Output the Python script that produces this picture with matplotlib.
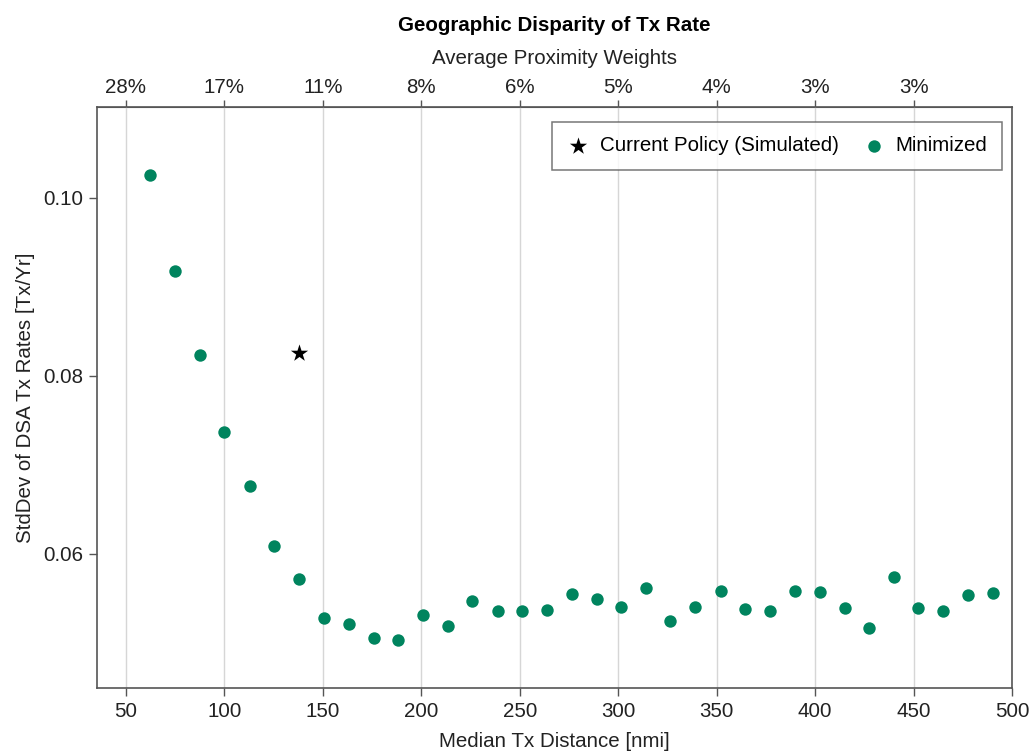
"""Geographic disparity of Tx rate vs median Tx distance."""

import matplotlib

matplotlib.use("Agg")
import matplotlib.pyplot as plt

plt.rcParams["font.family"] = ["Liberation Sans", "DejaVu Sans"]

# minimized runs: median Tx distance [nmi] vs stddev of DSA Tx rates [Tx/Yr]
median_dist = [
    62.3, 75.0, 87.7, 100.0, 113.1, 125.2, 137.9, 150.8, 163.3, 176.0,
    188.0, 200.8, 213.7, 225.9, 238.7, 251.2, 263.6, 276.4, 289.0, 301.5,
    314.0, 326.5, 339.2, 352.0, 364.6, 376.9, 389.6, 402.3, 415.0, 427.3,
    439.8, 452.3, 464.8, 477.5, 490.2,
]
stddev_rate = [
    0.1026, 0.0918, 0.0823, 0.0737, 0.0676, 0.0609, 0.0572, 0.0528, 0.0521, 0.0505,
    0.0503, 0.0531, 0.0519, 0.0547, 0.0536, 0.0535, 0.0537, 0.0555, 0.0549, 0.0540,
    0.0561, 0.0524, 0.0540, 0.0558, 0.0538, 0.0535, 0.0558, 0.0557, 0.0539, 0.0517,
    0.0574, 0.0539, 0.0536, 0.0554, 0.0556,
]

# current policy (simulated)
current_dist = [137.9]
current_rate = [0.0825]

# axis ticks
bottom_ticks = [50, 100, 150, 200, 250, 300, 350, 400, 450, 500]
top_ticks = [50, 100, 150, 200, 250, 300, 350, 400, 450]
top_labels = ["28%", "17%", "11%", "8%", "6%", "5%", "4%", "3%", "3%"]
y_ticks = [0.06, 0.08, 0.10]

GREEN = "#00845e"
SPINE = "#555555"
TEXT = "#222222"
FS = 14.8

fig = plt.figure(figsize=(10.34, 7.53), dpi=100)
ax = fig.add_axes([0.0938, 0.0863, 0.885, 0.7716])

ax.scatter(current_dist, current_rate, marker="*", s=170, color="black",
           label="Current Policy (Simulated)", zorder=3, linewidths=0)
ax.scatter(median_dist, stddev_rate, marker="o", s=80, color=GREEN,
           label="Minimized", zorder=3, linewidths=0)

ax.set_xlim(35.3, 500)
ax.set_ylim(0.0449, 0.1102)

ax.set_xticks(bottom_ticks)
ax.set_yticks(y_ticks)
ax.set_yticklabels([f"{v:.2f}" for v in y_ticks])
ax.xaxis.grid(True, color="#d6d6d6", linewidth=1.0)
ax.set_axisbelow(True)

for s in ax.spines.values():
    s.set_color(SPINE)
    s.set_linewidth(1.2)
ax.tick_params(axis="both", colors=SPINE, labelcolor=TEXT, labelsize=FS,
               length=6, width=1.0, pad=4)

ax.set_xlabel("Median Tx Distance [nmi]", fontsize=FS, color=TEXT, labelpad=8)
ax.set_ylabel("StdDev of DSA Tx Rates [Tx/Yr]", fontsize=FS, color=TEXT, labelpad=6)

top = ax.secondary_xaxis("top")
top.set_xticks(top_ticks)
top.set_xticklabels(top_labels)
top.tick_params(colors=SPINE, labelcolor=TEXT, labelsize=FS, length=5, width=1.0, pad=2)
top.spines["top"].set_color(SPINE)
top.set_xlabel("Average Proximity Weights", fontsize=FS, color=TEXT, labelpad=10)

ax.set_title("Geographic Disparity of Tx Rate", fontsize=FS, fontweight="bold",
             pad=55)

leg = ax.legend(loc="upper right", ncol=2, fontsize=FS, frameon=True,
                fancybox=False, edgecolor=SPINE, handletextpad=0.5,
                columnspacing=1.1, borderpad=0.7, handlelength=1.15,
                borderaxespad=0, bbox_to_anchor=(0.989, 0.974))
leg.get_frame().set_linewidth(1.1)

fig.savefig("out.png", dpi=100)
